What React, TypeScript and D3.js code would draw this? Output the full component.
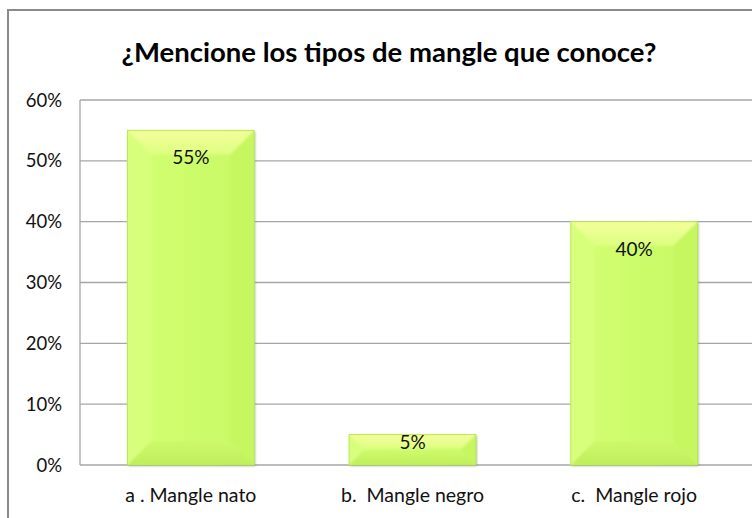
import React from "react";
import * as d3 from "d3";

const categories = ["a . Mangle nato", "b.  Mangle negro", "c.  Mangle rojo"];
const values = [0.55, 0.05, 0.4];
const valueLabels = ["55%", "5%", "40%"];
const yTicks = [0, 0.1, 0.2, 0.3, 0.4, 0.5, 0.6];
const title = "¿Mencione los tipos de mangle que conoce?";

const W = 752;
const H = 518;
const FONT = "Lato, 'Open Sans', sans-serif";

export default function App() {
  const x = d3.scaleBand<string>().domain(categories).range([80, 745]).paddingInner(0.4286).paddingOuter(0.2143);
  const y = d3.scaleLinear().domain([0, 0.6]).range([465, 100]);
  const fmt = d3.format(".0%");
  const bw = x.bandwidth();

  return (
    <svg width={W} height={H} style={{ position: "absolute", left: 0, top: 0, background: "#fff" }}>
      <defs>
        <linearGradient id="body" x1="0" x2="1" y1="0" y2="0">
          <stop offset="0" stopColor="#d4ff74" />
          <stop offset="0.5" stopColor="#cdfc6a" />
          <stop offset="1" stopColor="#c8f864" />
        </linearGradient>
        <linearGradient id="topb" x1="0" x2="0" y1="0" y2="1">
          <stop offset="0" stopColor="#f4ff9c" />
          <stop offset="1" stopColor="#dcff80" />
        </linearGradient>
        <linearGradient id="botb" x1="0" x2="0" y1="0" y2="1">
          <stop offset="0" stopColor="#cdfa6a" />
          <stop offset="1" stopColor="#bfee5c" />
        </linearGradient>
        <filter id="sh" x="-10%" y="-10%" width="120%" height="120%">
          <feDropShadow dx="1" dy="1" stdDeviation="1" floodColor="#555" floodOpacity="0.45" />
        </filter>
        <filter id="blur"><feGaussianBlur stdDeviation="1.2" /></filter>
      </defs>
      <rect x={0} y={0} width={W} height={H} fill="#fff" />
      <path d={`M8,${H} V10 H${W}`} fill="none" stroke="#8a8a8a" strokeWidth={2} />
      <text x={389} y={62} textAnchor="middle" fontFamily={FONT} fontWeight="bold" fontSize={27.5} fill="#000">
        {title}
      </text>
      {yTicks.map((t) => (
        <g key={t}>
          <line x1={80} x2={W} y1={y(t)} y2={y(t)} stroke="#a6a6a6" strokeWidth={1.3} />
          <text x={62} y={y(t)} dy="0.36em" textAnchor="end" fontFamily={FONT} fontSize={18.5} fill="#111">
            {fmt(t)}
          </text>
        </g>
      ))}
      <line x1={80} x2={80} y1={y(0.6)} y2={y(0)} stroke="#a6a6a6" strokeWidth={1.3} />
      {categories.map((c, i) => {
        const x0 = x(c)!;
        const x1 = x0 + bw;
        const y0 = y(values[i]);
        const y1 = y(0);
        const h = y1 - y0;
        const b = Math.min(24, h / 2 - 1);
        const cx = x0 + bw / 2;
        return (
          <g key={c}>
            <rect x={x0} y={y0} width={bw} height={h} fill="url(#body)" filter="url(#sh)" />
            <g filter="url(#blur)">
              <path d={`M${x0},${y0} L${x0 + b},${y0 + b} L${x0 + b},${y1 - b} L${x0},${y1} Z`} fill="#d8ff7c" />
              <path d={`M${x1},${y0} L${x1 - b},${y0 + b} L${x1 - b},${y1 - b} L${x1},${y1} Z`} fill="#c6f660" />
              <path d={`M${x0},${y1} L${x0 + b},${y1 - b} L${x1 - b},${y1 - b} L${x1},${y1} Z`} fill="url(#botb)" />
              <path d={`M${x0},${y0} L${x1},${y0} L${x1 - b},${y0 + b} L${x0 + b},${y0 + b} Z`} fill="url(#topb)" />
            </g>
            <rect x={x0} y={y0} width={bw} height={h} fill="none" stroke="#b6e25a" strokeWidth={0.8} />
            <text x={cx} y={y0 + (values[i] < 0.1 ? 8 : 27)} dy="0.36em" textAnchor="middle" fontFamily={FONT} fontSize={19} fill="#111">
              {valueLabels[i]}
            </text>
            <text x={cx} y={495} dy="0.36em" textAnchor="middle" fontFamily={FONT} fontSize={19.5} fill="#111" style={{ whiteSpace: "pre" }}>
              {c}
            </text>
          </g>
        );
      })}
    </svg>
  );
}
